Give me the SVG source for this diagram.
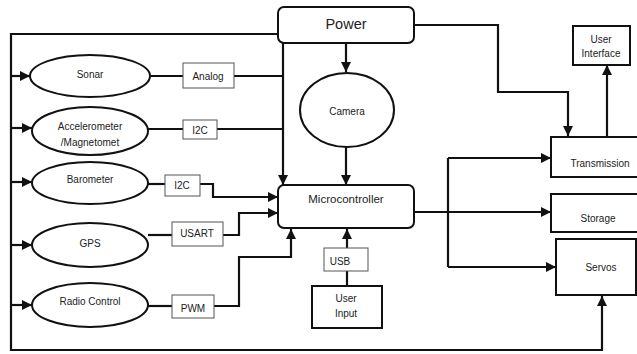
<svg xmlns="http://www.w3.org/2000/svg" width="637" height="354" viewBox="0 0 637 354">
<defs>
<marker id="ah" markerUnits="userSpaceOnUse" markerWidth="10" markerHeight="10" refX="10" refY="5" orient="auto">
<path d="M0,0 L10,5 L0,10 z" fill="#111"/>
</marker>
<style>
.n{fill:#fff;stroke:#111;stroke-width:2}
.lb{fill:#fff;stroke:#555;stroke-width:1}
.e{fill:none;stroke:#111;stroke-width:2.2}
.a{marker-end:url(#ah)}
text{font-family:"Liberation Sans",Arial,sans-serif;font-size:10px;fill:#222;text-anchor:middle;dominant-baseline:central}
</style>
</defs>
<rect width="637" height="354" fill="#fff"/>
<g id="connectors">
<path class="e" d="M278,34 H11 V350 H602 V296" marker-end="url(#ah)"/>
<path class="e a" d="M11,76 H30"/>
<path class="e a" d="M11,128 H32"/>
<path class="e a" d="M11,182 H32"/>
<path class="e a" d="M11,245 H32"/>
<path class="e a" d="M11,305 H32"/>
<path class="e" d="M151,76 H183 M234,76 H283 M148,129 H183 M217,129 H283"/>
<path class="e a" d="M283,43 V185"/>
<path class="e a" d="M346,43 V72"/>
<path class="e a" d="M346,147 V185"/>
<path class="e" d="M148,184 H165"/>
<path class="e a" d="M200,184 H213 V197 H278"/>
<path class="e" d="M148,235 H172"/>
<path class="e a" d="M223,235 H239 V213 H278"/>
<path class="e" d="M148,306 H172"/>
<path class="e a" d="M214,306 H239 V257 H291 V229"/>
<path class="e" d="M347,286 V271"/>
<path class="e a" d="M347,248 V229"/>
<path class="e a" d="M414,25 H498 V92 H568 V136"/>
<path class="e a" d="M414,212 H551"/>
<path class="e" d="M448,158 V267"/>
<path class="e a" d="M448,158 H551"/>
<path class="e a" d="M448,267 H556"/>
<path class="e a" d="M607,137 V65"/>
</g>
<g id="power"><rect class="n" x="278" y="7" width="136" height="36" rx="6"/><text x="346" y="24" style="font-size:14.5px">Power</text></g>
<g id="camera"><ellipse class="n" cx="347" cy="110" rx="47" ry="37"/><text x="347" y="111">Camera</text></g>
<g id="sonar"><ellipse class="n" cx="90" cy="76" rx="60" ry="21"/><text x="90" y="74">Sonar</text></g>
<g id="accelerometer"><ellipse class="n" cx="90" cy="131" rx="58" ry="24"/><text x="90" y="126">Accelerometer</text><text x="90" y="142">/Magnetomet</text></g>
<g id="barometer"><ellipse class="n" cx="90" cy="183" rx="58" ry="21"/><text x="90" y="179">Barometer</text></g>
<g id="gps"><ellipse class="n" cx="90" cy="245" rx="58" ry="22"/><text x="90" y="243">GPS</text></g>
<g id="radio"><ellipse class="n" cx="90" cy="305" rx="58" ry="22"/><text x="90" y="301">Radio Control</text></g>
<g id="analog"><rect class="lb" x="183" y="63" width="51" height="25"/><text x="208" y="76">Analog</text></g>
<g id="i2c1"><rect class="lb" x="183" y="120" width="34" height="19"/><text x="200" y="130">I2C</text></g>
<g id="i2c2"><rect class="lb" x="165" y="175" width="35" height="21"/><text x="182" y="185">I2C</text></g>
<g id="usart"><rect class="lb" x="172" y="222" width="51" height="24"/><text x="197" y="233">USART</text></g>
<g id="pwm"><rect class="lb" x="172" y="295" width="42" height="23"/><text x="193" y="308">PWM</text></g>
<g id="microcontroller"><rect class="n" x="278" y="185" width="136" height="43" rx="6"/><text x="346" y="199" style="font-size:11.5px">Microcontroller</text></g>
<g id="usb"><rect class="lb" x="324" y="248" width="44" height="23"/><text x="340" y="261">USB</text></g>
<g id="userinput"><rect class="n" x="312" y="286" width="70" height="42"/><text x="346" y="298">User</text><text x="346" y="313">Input</text></g>
<g id="userinterface"><rect class="n" x="573" y="26" width="57" height="39"/><text x="601" y="39">User</text><text x="601" y="53">Interface</text></g>
<g id="transmission"><rect class="n" x="551" y="137" width="90" height="40"/><text x="600" y="163">Transmission</text></g>
<g id="storage"><rect class="n" x="551" y="194" width="90" height="38"/><text x="598" y="218">Storage</text></g>
<g id="servos"><rect class="n" x="556" y="239" width="80" height="56"/><text x="601" y="267">Servos</text></g>
</svg>
